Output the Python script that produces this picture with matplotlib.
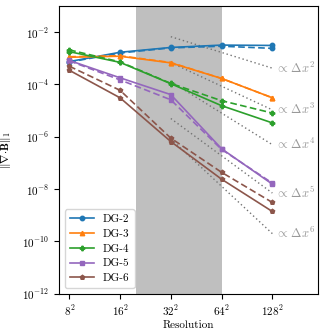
import numpy as np
import matplotlib
matplotlib.use("Agg")
import matplotlib.pyplot as plt

plt.rcParams['font.family'] = 'serif'
plt.rcParams['font.serif'] = ['cmr10']
plt.rcParams['mathtext.fontset'] = 'cm'
plt.rcParams['axes.unicode_minus'] = False
plt.rcParams['font.size'] = 8

# resolutions (N for N^2 cells)
res = [8, 16, 32, 64, 128]
res_labels = [r'$8^2$', r'$16^2$', r'$32^2$', r'$64^2$', r'$128^2$']

# divergence error, solid and dashed runs
dg2 = [7.5e-4, 1.7e-3, 2.6e-3, 3.2e-3, 3.1e-3]
dg2_b = [7.2e-4, 1.6e-3, 2.5e-3, 2.9e-3, 2.4e-3]
dg3 = [1.1e-3, 1.2e-3, 6.7e-4, 1.7e-4, 3.1e-5]
dg3_b = [1.15e-3, 1.25e-3, 6.9e-4, 1.7e-4, 3.1e-5]
dg4 = [1.8e-3, 7.0e-4, 1.07e-4, 1.55e-5, 3.4e-6]
dg4_b = [2.1e-3, 7.3e-4, 1.1e-4, 2.4e-5, 8.1e-6]
dg5 = [8.3e-4, 1.8e-4, 4.1e-5, 3.5e-7, 1.55e-8]
dg5_b = [8.0e-4, 1.5e-4, 2.6e-5, 3.3e-7, 1.7e-8]
dg6 = [3.5e-4, 3.1e-5, 6.6e-7, 2.4e-8, 1.4e-9]
dg6_b = [5.0e-4, 6.0e-5, 8.9e-7, 4.4e-8, 3.1e-9]

names = ['DG-2', 'DG-3', 'DG-4', 'DG-5', 'DG-6']
solid = [dg2, dg3, dg4, dg5, dg6]
dashed = [dg2_b, dg3_b, dg4_b, dg5_b, dg6_b]
colors = ['#1f77b4', '#ff7f0e', '#2ca02c', '#9467bd', '#8c564b']
markers = ['o', '^', 'P', 's', 'p']

# reference slope lines, drawn from 32^2 to 128^2
ref_x = [32, 128]
ref_orders = [2, 3, 4, 5, 6]
ref_start = [6.7e-3, 6.9e-4, 1.3e-4, 5.0e-6, 8.3e-7]
ref_end = [4.2e-4, 1.07e-5, 5.0e-7, 7.1e-9, 2.0e-10]

shade_lo, shade_hi = 20, 64

fig = plt.figure(figsize=(3.32, 3.32), dpi=100)
ax = fig.add_axes([0.178, 0.115, 0.78, 0.867])

ax.axvspan(shade_lo, shade_hi, color='0.75', lw=0, zorder=0)

for p, y0, y1 in zip(ref_orders, ref_start, ref_end):
    ax.plot(ref_x, [y0, y1], ls=(0, (1, 2)), color='0.45', lw=1.0)
    ax.text(ref_x[1] * 1.04, y1, r'$\propto\,\Delta x^{%d}$' % p, color='0.6',
            va='center', ha='left', fontsize=9)

for name, ys, yd, c, m in zip(names, solid, dashed, colors, markers):
    ax.plot(res, ys, color=c, marker=m, ms=3.2, lw=1.2, label=name)
    ax.plot(res, yd, color=c, marker=m, ms=3.2, lw=1.2, ls=(0, (4, 2)))

ax.set_xscale('log', base=2)
ax.set_yscale('log')
ax.set_xlim(8 * 2 ** -0.2, 128 * 2 ** 0.9)
ax.set_ylim(1e-12, 1e-1)
ax.set_xticks(res)
ax.set_xticklabels(res_labels)
ax.minorticks_off()
yt = [1e-12, 1e-10, 1e-8, 1e-6, 1e-4, 1e-2]
ax.set_yticks(yt)
ax.set_yticklabels([r'$10^{%d}$' % int(np.log10(v)) for v in yt])
ax.tick_params(direction='out', length=3.5, width=0.8)

ax.set_xlabel('Resolution', labelpad=2)
ax.set_ylabel(r'$\|\nabla\!\cdot\!\mathbf{B}\|_1$', labelpad=7)

ax.legend(loc='lower left', fontsize=8, handlelength=2.2, borderpad=0.45,
          labelspacing=0.45, fancybox=True, framealpha=0.8, edgecolor='0.8')

fig.savefig('out.png', dpi=100)
